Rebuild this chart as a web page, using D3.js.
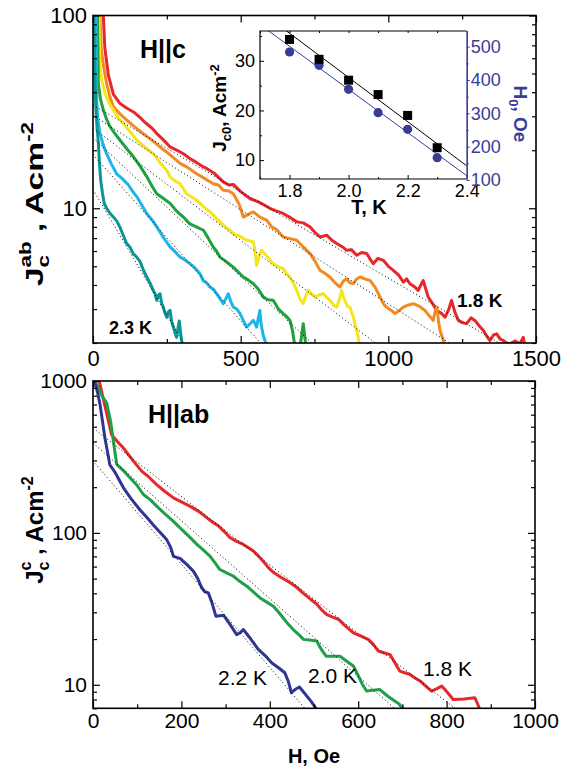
<!DOCTYPE html>
<html>
<head>
<meta charset="utf-8">
<script src="https://cdn.jsdelivr.net/npm/d3@7"></script>
<style>
body { margin: 0; background: #fff; }
svg { display: block; }
text { font-family: "Liberation Sans", Arial, sans-serif; }
</style>
</head>
<body>
<svg id="chart" width="563" height="773"></svg>
<script>
// ---- top panel, H||c : J_c^ab (A/cm2) vs H (Oe) ----
var hc18 = [[33,120],[35,100],[40,68],[52,49],[69,39],[91,35],[115,33],[137,31.6],[160,29.5],[175,28],[200,26],[216,24.4],[240,22.5],[261,20.8],[290,19.8],[310,19],[328,18.1],[350,17.3],[370,16.5],[385,16.1],[410,15.2],[441,13.7],[460,13.2],[475,13.3],[500,12.2],[532,11.2],[560,10.8],[580,10.4],[599,10],[620,9.7],[644,9.4],[665,9.0],[690,8.5],[712,8.4],[735,8.0],[755,7.4],[769,7.1],[791,7.25],[810,6.8],[825,6.56],[845,6.3],[859,6.05],[875,6.1],[893,5.7],[910,5.9],[927,5.82],[940,5.4],[949,5.16],[965,5.5],[983,5.37],[1000,5.0],[1017,4.76],[1035,4.5],[1051,4.14],[1062,4.3],[1073,4.06],[1090,3.9],[1101,3.75],[1110,4.0],[1118,4.22],[1127,3.8],[1135,3.46],[1150,3.2],[1164,2.95],[1180,2.85],[1192,2.72],[1205,3.0],[1214,3.33],[1225,2.9],[1237,2.62],[1250,2.55],[1265,2.52],[1280,2.7],[1293,2.62],[1308,2.45],[1322,2.32],[1335,2.15],[1344,2.06],[1356,2.2],[1367,2.23],[1378,2.1],[1389,2.06],[1400,2.0],[1412,1.98],[1430,2.05],[1445,1.98],[1457,2.14],[1463,1.9]];
var hc19 = [[23,120],[24,100],[28,66],[38,52],[46,44.5],[57,38],[69,33.6],[90,31],[114,28.7],[140,26.5],[170,24.4],[200,22.5],[227,20.8],[260,19],[295,17.1],[320,16.3],[351,15.1],[380,14.2],[407,13.4],[425,13.2],[441,12.4],[460,12.3],[475,11.9],[495,10.5],[509,9.0],[525,9.3],[543,9.57],[565,9.0],[588,8.67],[605,8.0],[620,7.8],[644,7.1],[667,6.96],[690,6.82],[712,6.3],[735,5.82],[752,5.3],[769,4.76],[785,4.6],[802,4.4],[820,4.1],[836,3.9],[848,4.2],[859,4.31],[870,4.1],[881,4.06],[893,4.3],[904,4.4],[920,4.3],[938,4.22],[955,3.9],[972,3.46],[983,3.2],[994,3.07],[1010,2.95],[1023,2.84],[1037,2.95],[1051,3.07],[1068,3.15],[1085,3.2],[1105,3.1],[1124,2.95],[1140,2.75],[1152,2.62],[1158,2.9],[1164,3.07],[1170,2.6],[1175,2.32],[1185,2.1],[1192,1.9]];
var hc20 = [[19,120],[20,100],[23.7,54],[30,46],[41,39.4],[55,35],[69,32.3],[85,29.5],[103,27.5],[125,25],[148,22.6],[175,20.8],[204,19.2],[230,17],[250,15.7],[261,14.5],[280,13.8],[295,13.4],[317,11.9],[340,11.3],[355,10.9],[374,10.2],[395,9.6],[419,8.83],[440,8.2],[464,7.69],[480,7.3],[495,7.2],[509,6.96],[525,6.8],[543,6.69],[550,5.8],[554,5.06],[562,5.6],[571,6.05],[590,5.6],[610,5.16],[625,5.0],[644,4.86],[655,4.6],[667,4.4],[678,4.1],[690,3.75],[700,3.4],[712,3.2],[720,3.5],[729,3.75],[740,3.6],[752,3.46],[765,3.55],[780,3.6],[792,3.45],[802,3.33],[815,3.15],[825,3.07],[835,3.4],[842,3.75],[850,3.4],[862,3.1],[870,3.07],[882,2.7],[893,2.32],[899,2.1],[904,1.9]];
var hc21 = [[14,120],[15,100],[17,60],[18,44.5],[25,37],[35,32.3],[46,29],[58,26.4],[75,24.3],[91,22.6],[115,20.3],[137,18.5],[160,16.5],[182,14.6],[200,13],[216,11.9],[240,11.2],[261,10.6],[285,9.6],[306,9.0],[318,8.6],[328,8.3],[350,8.0],[374,7.69],[390,7.0],[407,6.3],[418,6.0],[430,5.58],[450,5.3],[475,4.95],[490,4.7],[509,4.4],[525,4.25],[543,4.06],[560,3.8],[577,3.46],[593,3.35],[610,3.33],[628,3.0],[644,2.84],[655,2.75],[667,2.62],[676,2.3],[684,1.9],[700,1.85],[712,2.52],[722,1.85]];
var hc22 = [[9,120],[10,100],[11,60],[12.5,36.4],[16,29],[23.7,24.4],[35,21.2],[46,19.2],[62,17],[80,15.1],[100,14.2],[120,13.2],[135,12.2],[148,11.5],[165,10.4],[182,9.39],[200,8.7],[216,8.0],[240,7.0],[261,6.3],[280,5.9],[295,5.58],[310,5.4],[328,5.16],[345,4.9],[362,4.58],[373,4.22],[385,4.1],[396,3.9],[408,3.8],[419,3.6],[430,3.4],[441,3.2],[450,3.4],[458,3.6],[466,3.3],[475,3.07],[487,3.0],[498,2.84],[510,2.6],[520,2.42],[530,2.5],[543,2.62],[550,2.5],[554,2.42],[560,2.7],[565,2.95],[568,2.6],[571,2.42],[576,2.2],[582,2.06],[590,1.9]];
var hc23 = [[2,120],[3,100],[6,50],[10,32],[14,26],[18,22],[22,17],[26,14],[32,12],[38,10.6],[46,10.0],[58,9.39],[69,9.0],[80,8.6],[91,8.0],[103,7.2],[114,6.56],[125,6.3],[136,5.82],[147,5.6],[159,5.3],[170,4.8],[182,4.4],[193,4.1],[204,3.75],[210,3.6],[216,3.33],[222,3.55],[227,3.6],[233,3.2],[238,3.07],[244,2.85],[250,2.72],[255,2.9],[261,2.95],[266,2.6],[272,2.42],[278,2.25],[283,2.14],[288,2.4],[292,2.6],[296,2.3],[300,2.06],[303,1.9]];
var topColors = ['#e8272b', '#f28a24', '#f4e61c', '#1ea23e', '#1cb5ea', '#0a9597'];
// exponential fits shown dotted: [H, J] end points
var topFits = [[[0,34.3],[1375,2]], [[0,30.3],[1207,2]], [[0,26.1],[956,2]], [[0,23.2],[740,2]], [[0,19.0],[567,2]], [[0,12.5],[306,2]]];
var topXTicks = [0, 500, 1000, 1500];
var topXMinor = [250, 750, 1250];
var topYTicks = [10, 100];
var topYMinor = [2,3,4,5,6,7,8,9,20,30,40,50,60,70,80,90];

// ---- inset : fit parameters vs T ----
var insetT = [1.8, 1.9, 2.0, 2.1, 2.2, 2.3];
var insetJc0 = [34.3, 30.3, 26.1, 23.2, 19.0, 12.5];
var insetH0 = [484, 444, 372, 302, 252, 167];
var insetJc0Line = [[1.7, 40.0], [2.4, 8.85]];
var insetH0Line = [[1.7, 566], [2.4, 113]];
var insetXTicks = [1.8, 2.0, 2.2, 2.4];
var insetXMinor = [1.7, 1.9, 2.1, 2.3];
var insetLTicks = [10, 20, 30];
var insetLMinor = [15, 25, 35];
var insetRTicks = [100, 200, 300, 400, 500];
var insetRMinor = [150, 250, 350, 450];

// ---- bottom panel, H||ab : J_c^c vs H ----
var hab18 = [[10,1100],[14,1000],[42,443],[55,400],[69,362],[90,300],[110,255],[125,235],[144,208],[162,188],[182,170],[200,160],[219,150],[240,138],[257,126],[270,118],[284,111],[297,102],[310,93],[325,88],[340,84],[351,80],[363,76],[375,70],[385,65],[397,59],[408,55],[425,51],[446,47],[460,44],[476,40],[490,37],[506,34],[518,31],[529,29],[541,28],[555,27],[570,24.5],[589,22],[605,21],[623,19.9],[635,18.3],[645,16.7],[660,16.2],[672,15.8],[684,13.8],[694,12.3],[705,12.0],[717,11.7],[728,11.1],[740,10.6],[753,9.8],[766,9.08],[777,9.4],[789,9.8],[802,8.9],[815,8.0],[840,8.05],[864,8.2],[870,7.5],[875,6.9]];
var hab20 = [[0,1050],[10,930],[20,800],[31,717],[40,540],[50,334],[54,281],[70,255],[84,230],[100,205],[114,179],[130,165],[144,150],[162,134],[182,119],[204,103],[220,93],[235,84],[250,77],[265,70],[277,63],[287,57.4],[300,55],[317,52],[332,48],[348,44.6],[362,41],[378,37.3],[393,35],[408,32.9],[420,30],[430,27.6],[442,25],[453,23.1],[465,21.5],[476,19.9],[490,19.7],[506,19.4],[517,17],[528,15.4],[545,15.4],[559,15.4],[574,14.3],[589,13.3],[600,11.5],[610,10],[619,9.1],[633,9.2],[649,9.3],[665,8.5],[680,7.9],[692,7.5],[702,6.9]];
var hab22 = [[0,1050],[3,1000],[10,850],[16,699],[22,530],[27,422],[33,340],[38,281],[50,250],[69,198],[86,168],[106,142],[120,128],[136,113],[150,102],[167,90],[176,80],[182,70],[197,68],[212,62],[227,56],[237,50],[246,43.5],[253,41],[261,40.3],[270,34],[278,28.3],[287,28.5],[295,28.7],[310,25],[325,21.4],[333,22],[340,23.1],[357,20],[374,17.1],[390,15.5],[404,13.95],[419,13],[434,12],[442,10.5],[449,8.86],[457,9.3],[467,9.66],[480,8.7],[493,7.8],[506,6.9]];
var bottomColors = ['#e8272b', '#1ea04a', '#2e3592'];
var bottomFits = [[[0,490],[819,7]], [[0,391],[682,7]], [[0,298],[479,7]]];
var bottomLabels = [['1.8 K', 423, 676], ['2.0 K', 308, 683], ['2.2 K', 218, 685]];
var bottomXTicks = [0, 200, 400, 600, 800, 1000];
var bottomXMinor = [100, 300, 500, 700, 900];
var bottomYTicks = [10, 100, 1000];
var bottomYMinor = [7,8,9,20,30,40,50,60,70,80,90,200,300,400,500,600,700,800,900];

var svg = d3.select('#chart');

function noLabel() { return ''; }
function plain(d) { return String(d); }

// inward ticks on all four sides of a frame
function frameAxes(g, x, y, xt, xm, yt, ym, big, small, fs, xpad, ypad) {
    var x0 = x.range()[0], x1 = x.range()[1], y0 = y.range()[0], y1 = y.range()[1];
    g.append('g').attr('transform', 'translate(0,' + y0 + ')')
        .call(d3.axisBottom(x).tickValues(xt).tickSizeInner(-big).tickSizeOuter(0).tickPadding(xpad).tickFormat(plain));
    g.append('g').attr('transform', 'translate(0,' + y0 + ')')
        .call(d3.axisBottom(x).tickValues(xm).tickSizeInner(-small).tickSizeOuter(0).tickFormat(noLabel));
    g.append('g').attr('transform', 'translate(0,' + y1 + ')')
        .call(d3.axisTop(x).tickValues(xt).tickSizeInner(-big).tickSizeOuter(0).tickFormat(noLabel));
    g.append('g').attr('transform', 'translate(0,' + y1 + ')')
        .call(d3.axisTop(x).tickValues(xm).tickSizeInner(-small).tickSizeOuter(0).tickFormat(noLabel));
    g.append('g').attr('transform', 'translate(' + x0 + ',0)')
        .call(d3.axisLeft(y).tickValues(yt).tickSizeInner(-big).tickSizeOuter(0).tickPadding(ypad).tickFormat(plain));
    g.append('g').attr('transform', 'translate(' + x0 + ',0)')
        .call(d3.axisLeft(y).tickValues(ym).tickSizeInner(-small).tickSizeOuter(0).tickFormat(noLabel));
    g.append('g').attr('transform', 'translate(' + x1 + ',0)')
        .call(d3.axisRight(y).tickValues(yt).tickSizeInner(-big).tickSizeOuter(0).tickFormat(noLabel));
    g.append('g').attr('transform', 'translate(' + x1 + ',0)')
        .call(d3.axisRight(y).tickValues(ym).tickSizeInner(-small).tickSizeOuter(0).tickFormat(noLabel));
    g.selectAll('.domain').remove();
    g.selectAll('.tick line').attr('stroke', '#000').attr('stroke-width', 1.2);
    g.selectAll('.tick text').attr('font-size', fs).attr('fill', '#000')
        .attr('font-family', '"Liberation Sans", Arial, sans-serif');
    g.append('rect').attr('x', x0).attr('y', y1).attr('width', x1 - x0).attr('height', y0 - y1)
        .attr('fill', 'none').attr('stroke', '#000').attr('stroke-width', 1.6);
}

function clipRect(id, x, y) {
    svg.append('clipPath').attr('id', id).append('rect')
        .attr('x', x.range()[0]).attr('y', y.range()[1])
        .attr('width', x.range()[1] - x.range()[0]).attr('height', y.range()[0] - y.range()[1]);
}

function plotCurves(id, x, y, series, colors, fits, width) {
    var line = d3.line().x(function (d) { return x(d[0]); }).y(function (d) { return y(d[1]); });
    var g = svg.append('g').attr('clip-path', 'url(#' + id + ')');
    series.forEach(function (s, i) {
        g.append('path').datum(s).attr('d', line).attr('fill', 'none')
            .attr('stroke', colors[i]).attr('stroke-width', width)
            .attr('stroke-linejoin', 'round');
    });
    fits.forEach(function (f) {
        g.append('path').datum(f).attr('d', line).attr('fill', 'none')
            .attr('stroke', '#000').attr('stroke-width', 1).attr('stroke-dasharray', '1,2.6');
    });
}

// ===== top panel =====
var topX = d3.scaleLinear().domain([0, 1500]).range([93, 536]);
var topY = d3.scaleLog().domain([2, 100]).range([343, 15.5]);
clipRect('clipTop', topX, topY);
plotCurves('clipTop', topX, topY, [hc18, hc19, hc20, hc21, hc22, hc23], topColors, topFits, 3);
frameAxes(svg.append('g'), topX, topY, topXTicks, topXMinor, topYTicks, topYMinor, 7, 4, 22, 7, 6);

svg.append('text').attr('x', 140).attr('y', 58).attr('font-size', 25).attr('font-weight', 'bold').text('H||c');
svg.append('text').attr('x', 109).attr('y', 334).attr('font-size', 18).attr('font-weight', 'bold').text('2.3 K');
svg.append('text').attr('x', 457).attr('y', 307).attr('font-size', 19).attr('font-weight', 'bold').text('1.8 K');

// the top label is drawn stretched along its length, as in the original figure
var tl = svg.append('text').attr('transform', 'translate(43,204) rotate(-90) scale(1.4,1)')
    .attr('text-anchor', 'middle').attr('font-size', 24).attr('font-weight', 'bold');
tl.append('tspan').text('J');
tl.append('tspan').attr('font-size', 16).attr('dy', 6).text('c');
tl.append('tspan').attr('font-size', 16).attr('dx', -9).attr('dy', -18).text('ab');
tl.append('tspan').attr('dy', 12).text(' , Acm');
tl.append('tspan').attr('font-size', 16).attr('dy', -10).text('-2');

// ===== inset =====
var ix = d3.scaleLinear().domain([1.7, 2.4]).range([260, 466.7]);
var iyL = d3.scaleLinear().domain([6.2, 36]).range([179, 31]);
var iyR = d3.scaleLinear().domain([103, 547]).range([179, 31]);
var blue = '#3a3d98';
svg.append('rect').attr('x', 260).attr('y', 31).attr('width', 206.7).attr('height', 148).attr('fill', '#fff');
clipRect('clipInset', ix, iyL);
var ilineL = d3.line().x(function (d) { return ix(d[0]); }).y(function (d) { return iyL(d[1]); });
var ilineR = d3.line().x(function (d) { return ix(d[0]); }).y(function (d) { return iyR(d[1]); });
var ic = svg.append('g').attr('clip-path', 'url(#clipInset)');
ic.append('path').datum(insetJc0Line).attr('d', ilineL).attr('stroke', '#000').attr('stroke-width', 1).attr('fill', 'none');
ic.append('path').datum(insetH0Line).attr('d', ilineR).attr('stroke', blue).attr('stroke-width', 1).attr('fill', 'none');
ic.selectAll('circle').data(insetT).enter().append('circle')
    .attr('cx', function (d) { return ix(d); })
    .attr('cy', function (d, i) { return iyR(insetH0[i]); })
    .attr('r', 4.6).attr('fill', blue);
ic.selectAll('rect.sq').data(insetT).enter().append('rect').attr('class', 'sq')
    .attr('x', function (d) { return ix(d) - 4.5; })
    .attr('y', function (d, i) { return iyL(insetJc0[i]) - 4.5; })
    .attr('width', 9).attr('height', 9).attr('fill', '#000');

var ia = svg.append('g');
ia.append('g').attr('transform', 'translate(0,179)')
    .call(d3.axisBottom(ix).tickValues(insetXTicks).tickSizeInner(-4).tickSizeOuter(0).tickPadding(5).tickFormat(d3.format('.1f')));
ia.append('g').attr('transform', 'translate(0,179)')
    .call(d3.axisBottom(ix).tickValues(insetXMinor).tickSizeInner(-2).tickSizeOuter(0).tickFormat(noLabel));
ia.append('g').attr('transform', 'translate(0,31)')
    .call(d3.axisTop(ix).tickValues(insetXTicks.concat(insetXMinor)).tickSizeInner(-2).tickSizeOuter(0).tickFormat(noLabel));
ia.append('g').attr('transform', 'translate(260,0)')
    .call(d3.axisLeft(iyL).tickValues(insetLTicks).tickSizeInner(-4).tickSizeOuter(0).tickPadding(5));
ia.append('g').attr('transform', 'translate(260,0)')
    .call(d3.axisLeft(iyL).tickValues(insetLMinor).tickSizeInner(-2).tickSizeOuter(0).tickFormat(noLabel));
ia.selectAll('.domain').remove();
ia.selectAll('.tick line').attr('stroke', '#000');
ia.selectAll('.tick text').attr('font-size', 18).attr('fill', '#000').attr('font-family', '"Liberation Sans", Arial, sans-serif');
ia.append('path').attr('d', 'M466.7,179H260V31H466.7').attr('fill', 'none').attr('stroke', '#000').attr('stroke-width', 1.2);

var ir = svg.append('g').attr('transform', 'translate(466.7,0)');
ir.call(d3.axisRight(iyR).tickValues(insetRTicks).tickSizeInner(3).tickSizeOuter(0).tickPadding(1));
ir.append('g').call(d3.axisRight(iyR).tickValues(insetRMinor).tickSizeInner(2).tickSizeOuter(0).tickFormat(noLabel));
ir.selectAll('.domain').attr('stroke', blue).attr('stroke-width', 1.2);
ir.selectAll('.tick line').attr('stroke', blue);
ir.selectAll('.tick text').attr('font-size', 18).attr('fill', blue).attr('font-family', '"Liberation Sans", Arial, sans-serif');

svg.append('text').attr('x', 369).attr('y', 214).attr('text-anchor', 'middle')
    .attr('font-size', 20).attr('font-weight', 'bold').text('T, K');
var jl = svg.append('text').attr('transform', 'translate(226,108) rotate(-90)')
    .attr('text-anchor', 'middle').attr('font-size', 19).attr('font-weight', 'bold');
jl.append('tspan').text('J');
jl.append('tspan').attr('font-size', 13).attr('dy', 5).text('c0');
jl.append('tspan').attr('dy', -5).text(', Acm');
jl.append('tspan').attr('font-size', 13).attr('dy', -7).text('-2');
var hl = svg.append('text').attr('transform', 'translate(514,114) rotate(90)')
    .attr('text-anchor', 'middle').attr('font-size', 19).attr('font-weight', 'bold').attr('fill', blue);
hl.append('tspan').text('H');
hl.append('tspan').attr('font-size', 13).attr('dy', 5).text('0');
hl.append('tspan').attr('dy', -5).text(', Oe');

// ===== bottom panel =====
var botX = d3.scaleLinear().domain([0, 1000]).range([93, 535]);
var botY = d3.scaleLog().domain([7, 1000]).range([708.3, 381]);
clipRect('clipBottom', botX, botY);
plotCurves('clipBottom', botX, botY, [hab18, hab20, hab22], bottomColors, bottomFits, 3);
frameAxes(svg.append('g'), botX, botY, bottomXTicks, bottomXMinor, bottomYTicks, bottomYMinor, 7, 4, 21, 5, 6);

svg.append('text').attr('x', 148).attr('y', 423).attr('font-size', 25).attr('font-weight', 'bold').text('H||ab');
bottomLabels.forEach(function (d) {
    svg.append('text').attr('x', d[1]).attr('y', d[2]).attr('font-size', 21).text(d[0]);
});
svg.append('text').attr('x', 314).attr('y', 763).attr('text-anchor', 'middle')
    .attr('font-size', 20).attr('font-weight', 'bold').text('H, Oe');

var bl = svg.append('text').attr('transform', 'translate(43,530) rotate(-90)')
    .attr('text-anchor', 'middle').attr('font-size', 24).attr('font-weight', 'bold');
bl.append('tspan').text('J');
bl.append('tspan').attr('font-size', 16).attr('dy', 6).text('c');
bl.append('tspan').attr('font-size', 16).attr('dx', -9).attr('dy', -18).text('c');
bl.append('tspan').attr('dy', 12).text(' , Acm');
bl.append('tspan').attr('font-size', 16).attr('dy', -10).text('-2');
</script>
</body>
</html>
